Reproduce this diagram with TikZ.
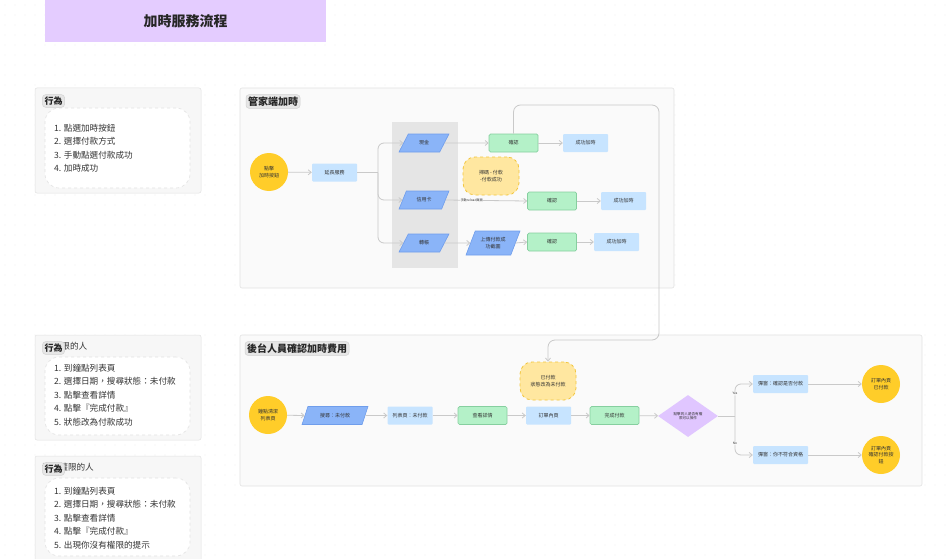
\documentclass[tikz,border=0pt]{standalone}
\usepackage{fontspec}
\setmainfont{Noto Sans CJK TC}
\usetikzlibrary{arrows.meta,shapes.geometric}
\definecolor{dotc}{HTML}{D4D4D4}
\definecolor{titlebg}{HTML}{E4CCFF}
\definecolor{panelbg}{HTML}{F7F7F7}
\definecolor{panelln}{HTML}{E2E2E2}
\definecolor{tagbg}{HTML}{E6E6E6}
\definecolor{tagln}{HTML}{D2D2D2}
\definecolor{bandbg}{HTML}{E5E5E5}
\definecolor{sunfill}{HTML}{FFCD29}
\definecolor{notefill}{HTML}{FFE7A0}
\definecolor{noteln}{HTML}{F2C53D}
\definecolor{parafill}{HTML}{8AB4F8}
\definecolor{paraln}{HTML}{6F9DEB}
\definecolor{okfill}{HTML}{B4F1C8}
\definecolor{okln}{HTML}{86CF9F}
\definecolor{infofill}{HTML}{C7E4FF}
\definecolor{decfill}{HTML}{E0C6FF}
\definecolor{lnc}{HTML}{C9C9C9}
\definecolor{txt}{HTML}{333333}
\tikzset{
  conn/.style={draw=lnc, line width=0.8pt, -{Straight Barb[length=3pt,width=5pt]}},
  wire/.style={draw=lnc, line width=0.8pt, rounded corners=6pt},
  tiny/.style={font=\fontsize{5}{6.5}\selectfont, text=txt, align=center},
  sun/.style={circle, fill=sunfill, minimum size=38pt, inner sep=0pt, tiny},
  info/.style={rectangle, fill=infofill, rounded corners=1pt, minimum width=45pt, minimum height=18pt, inner sep=1pt, tiny},
  okbox/.style={rectangle, fill=okfill, draw=okln, line width=0.7pt, rounded corners=1.5pt, minimum width=49pt, minimum height=18pt, inner sep=1pt, tiny},
  para/.style={trapezium, trapezium left angle=62, trapezium right angle=118, trapezium stretches=true, fill=parafill, draw=paraln, line width=0.6pt, minimum width=50pt, minimum height=18pt, inner sep=1pt, tiny},
  note/.style={rectangle, rounded corners=12pt, fill=notefill, draw=noteln, dashed, line width=0.8pt, minimum width=56pt, minimum height=38pt, inner sep=1pt, tiny},
  decision/.style={diamond, fill=decfill, minimum width=60pt, minimum height=42pt, aspect=1.45, inner sep=0pt, font=\fontsize{3.6}{4.6}\selectfont, text=txt, align=center},
  panel/.style={rectangle, fill=panelbg, draw=panelln, line width=0.5pt, rounded corners=2pt},
  section/.style={rectangle, fill=panelbg!60!white, draw=panelln, line width=0.6pt, rounded corners=2pt},
  tag/.style={rectangle, fill=tagbg, draw=tagln, line width=0.5pt, rounded corners=3pt, inner sep=2pt, font=\fontsize{9}{10}\selectfont\bfseries, text=black!85},
  listbox/.style={rectangle, fill=white, draw=panelln, dashed, line width=0.6pt, rounded corners=14pt},
  listtxt/.style={anchor=west, inner sep=0pt, font=\fontsize{8.6}{10}\selectfont, text=txt},
  lbl/.style={fill=panelbg!60!white, inner sep=0.6pt, font=\fontsize{3.2}{4}\selectfont, text=txt}
}
\begin{document}
\begin{tikzpicture}[x=1pt,y=-1pt]
\useasboundingbox (0,0) rectangle (947,559);
\fill[white] (0,0) rectangle (947,559);
% dotted canvas
\foreach \gx in {5,15,...,945}{
  \foreach \gy in {5,15,...,555}{
    \fill[dotc] (\gx,\gy) circle (0.45pt);
  }
}

% title banner
\node[rectangle, fill=titlebg, minimum width=281pt, minimum height=42pt, inner sep=0pt,
      font=\fontsize{14}{16}\selectfont\bfseries, text=black!85] (title) at (185.5,21) {加時服務流程};

% ---------- behaviour panels ----------
\node[panel, minimum width=166pt, minimum height=105pt] (p1) at (118,140.5) {};
\node[listbox, minimum width=145pt, minimum height=80pt] (l1) at (117.5,148) {};
\node[tag] (t1) at (53.5,101) {行為};
\node[listtxt] (a1) at (54,128) {1. 點選加時按鈕};
\node[listtxt] (a2) at (54,141.5) {2. 選擇付款方式};
\node[listtxt] (a3) at (54,155) {3. 手動點選付款成功};
\node[listtxt] (a4) at (54,168.5) {4. 加時成功};

\node[panel, minimum width=166pt, minimum height=105pt] (p2) at (118,387.5) {};
\node[listtxt] (w2) at (44,346) {有權限的人};
\node[listbox, minimum width=145pt, minimum height=78pt] (l2) at (117.5,396) {};
\node[tag] (t2) at (53.5,348) {行為};
\node[listtxt] (b1) at (54,368) {1. 到鐘點列表頁};
\node[listtxt] (b2) at (54,381.5) {2. 選擇日期，搜尋狀態：未付款};
\node[listtxt] (b3) at (54,395) {3. 點擊查看詳情};
\node[listtxt] (b4) at (54,408.5) {4. 點擊『完成付款』};
\node[listtxt] (b5) at (54,422) {5. 狀態改為付款成功};

\node[panel, minimum width=166pt, minimum height=110pt] (p3) at (118,511) {};
\node[listtxt] (w3) at (42,467) {沒有權限的人};
\node[listbox, minimum width=145pt, minimum height=78pt] (l3) at (117.5,517) {};
\node[tag] (t3) at (53.5,469) {行為};
\node[listtxt] (c1) at (54,491) {1. 到鐘點列表頁};
\node[listtxt] (c2) at (54,504.5) {2. 選擇日期，搜尋狀態：未付款};
\node[listtxt] (c3) at (54,518) {3. 點擊查看詳情};
\node[listtxt] (c4) at (54,531.5) {4. 點擊『完成付款』};
\node[listtxt] (c5) at (54,545) {5. 出現你沒有權限的提示};

% ---------- section: housekeeper side ----------
\node[section, minimum width=434pt, minimum height=200pt] (s1) at (457,188) {};
\node[tag, font=\fontsize{10}{11}\selectfont\bfseries] (st1) at (273,101.5) {管家端加時};
\fill[bandbg] (392,122) rectangle (458,268);

\node[sun] (start1) at (269,172) {點擊\\加時按鈕};
\node[info] (ext) at (334.5,172.5) {延長服務};
\node[para] (cash) at (424,143) {現金};
\node[para] (card) at (424,200) {信用卡};
\node[para] (bank) at (424,243) {轉帳};
\node[okbox] (ok1) at (513.5,143) {確認};
\node[info] (done1) at (585.5,143) {成功加時};
\node[note] (scan) at (491,176) {掃碼 - 付款\\-付款成功};
\node[okbox] (ok2) at (552,201) {確認};
\node[info] (done2) at (623.5,201) {成功加時};
\node[para, minimum width=54pt, minimum height=24pt] (shot) at (493,243) {上傳付款成\\功截圖};
\node[okbox] (ok3) at (552,242) {確認};
\node[info] (done3) at (616.5,242) {成功加時};

\draw[conn] (start1) -- (ext);
\draw[wire] (ext.east) -- (378,172.5) coordinate (fork1);
\draw[conn, rounded corners=6pt] (fork1) |- (cash.west);
\draw[conn, rounded corners=6pt] (fork1) |- (card.west);
\draw[conn, rounded corners=6pt] (fork1) |- (bank.west);
\draw[conn] (cash.east) -- (ok1.west);
\draw[conn] (ok1) -- (done1);
\draw[conn] (card.east) -- node[lbl, pos=0.32] {手動reload頁面} (ok2.west);
\draw[conn] (ok2) -- (done2);
\draw[conn] (bank.east) -- (shot.west);
\draw[conn] (shot.east) -- (ok3.west);
\draw[conn] (ok3) -- (done3);

% ---------- section: back office ----------
\node[section, minimum width=682pt, minimum height=151pt] (s2) at (581,410.5) {};
\node[tag, font=\fontsize{10}{11}\selectfont\bfseries] (st2) at (297,348.5) {後台人員確認加時費用};

\node[sun] (start2) at (268,415) {鐘點清潔\\列表頁};
\node[para, minimum width=66pt] (search) at (335,415.5) {搜尋：未付款};
\node[info] (list) at (410,415.5) {列表頁：未付款};
\node[okbox] (detail) at (482.5,415.5) {查看詳情};
\node[info] (order) at (548.5,415.5) {訂單內頁};
\node[okbox] (finish) at (614.5,415.5) {完成付款};
\node[decision] (perm) at (688,416) {點擊的人是否有權\\限可以操作};
\node[note] (paid) at (548,381) {已付款\\狀態改為未付款};
\node[info, minimum width=55pt] (popok) at (780.5,384) {彈窗：確認是否付款};
\node[info, minimum width=55pt] (popno) at (780.5,455) {彈窗：你不符合資格};
\node[sun] (endok) at (881,384) {訂單內頁\\已付款};
\node[sun] (endno) at (881,455) {訂單內頁\\確認付款按\\鈕};

\draw[conn] (start2) -- (search.west);
\draw[conn] (search.east) -- (list);
\draw[conn] (list) -- (detail);
\draw[conn] (detail) -- (order);
\draw[conn] (order) -- (finish);
\draw[conn] (finish) -- (perm);
\draw[wire] (perm.east) -- (735,416) coordinate (fork2);
\draw[conn, rounded corners=6pt] (fork2) |- node[lbl, pos=0.35] {Yes} (popok.west);
\draw[conn, rounded corners=6pt] (fork2) |- node[lbl, pos=0.35] {No} (popno.west);
\draw[conn] (popok) -- (endok);
\draw[conn] (popno) -- (endno);

% confirmation loop from the top flow into the back office
\coordinate (loopA) at (659,105);
\coordinate (loopB) at (659,340);
\draw[conn, rounded corners=7pt] (ok1.north) |- (loopA) -- (loopB) -| (paid.north);
\end{tikzpicture}
\end{document}
